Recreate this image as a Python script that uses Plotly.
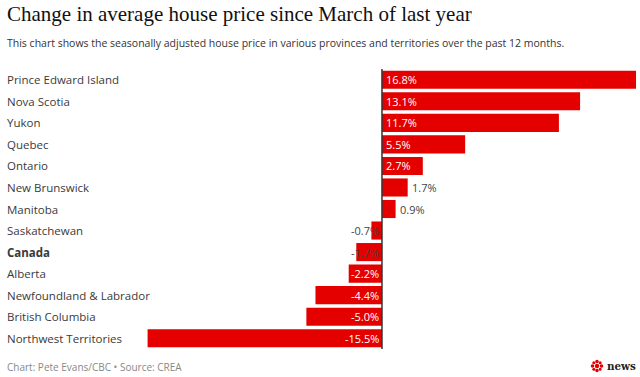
import plotly.graph_objects as go

categories = ["Prince Edward Island", "Nova Scotia", "Yukon", "Quebec", "Ontario",
              "New Brunswick", "Manitoba", "Saskatchewan", "Canada", "Alberta",
              "Newfoundland & Labrador", "British Columbia", "Northwest Territories"]
values = [16.8, 13.1, 11.7, 5.5, 2.7, 1.7, 0.9, -0.7, -1.7, -2.2, -4.4, -5.0, -15.5]
bold_categories = ["Canada"]

RED = "#e50000"
W, H = 640, 377
ML, MR, MT, MB = 0, 2, 69, 28
XMIN, XMAX = -25.26, 16.93
LX = 5 / (W - ML - MR)

fig = go.Figure()
fig.add_trace(go.Bar(
    x=values, y=categories, orientation="h",
    marker=dict(color=RED, line=dict(width=0)),
    width=0.84, hoverinfo="skip", showlegend=False,
))

annotations = []
for cat, v in zip(categories, values):
    label = f"<b>{cat}</b>" if cat in bold_categories else cat
    annotations.append(dict(xref="paper", x=LX, y=cat, yref="y",
                            text=label, showarrow=False, xanchor="left",
                            font=dict(family="Open Sans", size=11.5, color="#3a3a3a")))
    txt = f"{v:.1f}%"
    if v >= 2.5:
        annotations.append(dict(x=0, y=cat, text=txt, showarrow=False, xanchor="left",
                                xshift=2, font=dict(family="Open Sans", size=11, color="white")))
    elif v >= 0:
        annotations.append(dict(x=v, y=cat, text=txt, showarrow=False, xanchor="left",
                                xshift=2, font=dict(family="Open Sans", size=11, color="#444")))
    elif v > -2:
        annotations.append(dict(x=0, y=cat, text=txt, showarrow=False, xanchor="right",
                                xshift=-1, font=dict(family="Open Sans", size=11, color="#444")))
    else:
        annotations.append(dict(x=0, y=cat, text=txt, showarrow=False, xanchor="right",
                                xshift=-1, font=dict(family="Open Sans", size=11, color="white")))

annotations += [
    dict(xref="paper", yref="paper", x=LX, y=1 + (MT - 14) / (H - MT - MB),
         text="Change in average house price since March of last year", showarrow=False,
         xanchor="left", yanchor="middle",
         font=dict(family="Liberation Serif", size=21, color="#111")),
    dict(xref="paper", yref="paper", x=LX, y=1 + (MT - 43) / (H - MT - MB),
         text="This chart shows the seasonally adjusted house price in various provinces and territories over the past 12 months.",
         showarrow=False, xanchor="left", yanchor="middle",
         font=dict(family="Open Sans", size=10.5, color="#333")),
    dict(xref="paper", yref="paper", x=LX, y=-(367 - (H - MB)) / (H - MT - MB),
         text="Chart: Pete Evans/CBC • Source: CREA", showarrow=False,
         xanchor="left", yanchor="middle",
         font=dict(family="Open Sans", size=10, color="#888")),
    dict(xref="paper", yref="paper", x=1, y=-(366 - (H - MB)) / (H - MT - MB),
         text="<b>news</b>", showarrow=False, xanchor="right", yanchor="middle",
         font=dict(family="DejaVu Serif Condensed", size=11.5, color="#222")),
]

shapes = [dict(type="line", xref="x", yref="paper", x0=0, x1=0, y0=0, y1=1,
               line=dict(color="#333", width=1.5))]
# CBC gem logo (decorative)
cx, cy = 597, 366
for dx, dy, r in [(0, 0, 2.2), (-4.5, 0, 1.8), (4.5, 0, 1.8), (0, -4.5, 1.8), (0, 4.5, 1.8),
                  (-3.2, -3.2, 1.5), (3.2, -3.2, 1.5), (-3.2, 3.2, 1.5), (3.2, 3.2, 1.5)]:
    x = cx + dx
    y = cy + dy
    shapes.append(dict(type="circle", xref="paper", yref="paper",
                       x0=(x - r - ML) / (W - ML - MR), x1=(x + r - ML) / (W - ML - MR),
                       y0=((H - MB) - (y + r)) / (H - MT - MB), y1=((H - MB) - (y - r)) / (H - MT - MB),
                       fillcolor=RED, line=dict(width=0)))

fig.update_layout(
    width=W, height=H,
    margin=dict(l=ML, r=MR, t=MT, b=MB),
    paper_bgcolor="white", plot_bgcolor="white",
    xaxis=dict(range=[XMIN, XMAX], visible=False, fixedrange=True),
    yaxis=dict(autorange="reversed", visible=False, fixedrange=True),
    bargap=0.16,
    annotations=annotations, shapes=shapes,
    font=dict(family="Open Sans"),
)
fig.write_html("out.html", config={"displayModeBar": False},
               post_script="document.body.style.margin='0';document.body.style.overflow='hidden';")
